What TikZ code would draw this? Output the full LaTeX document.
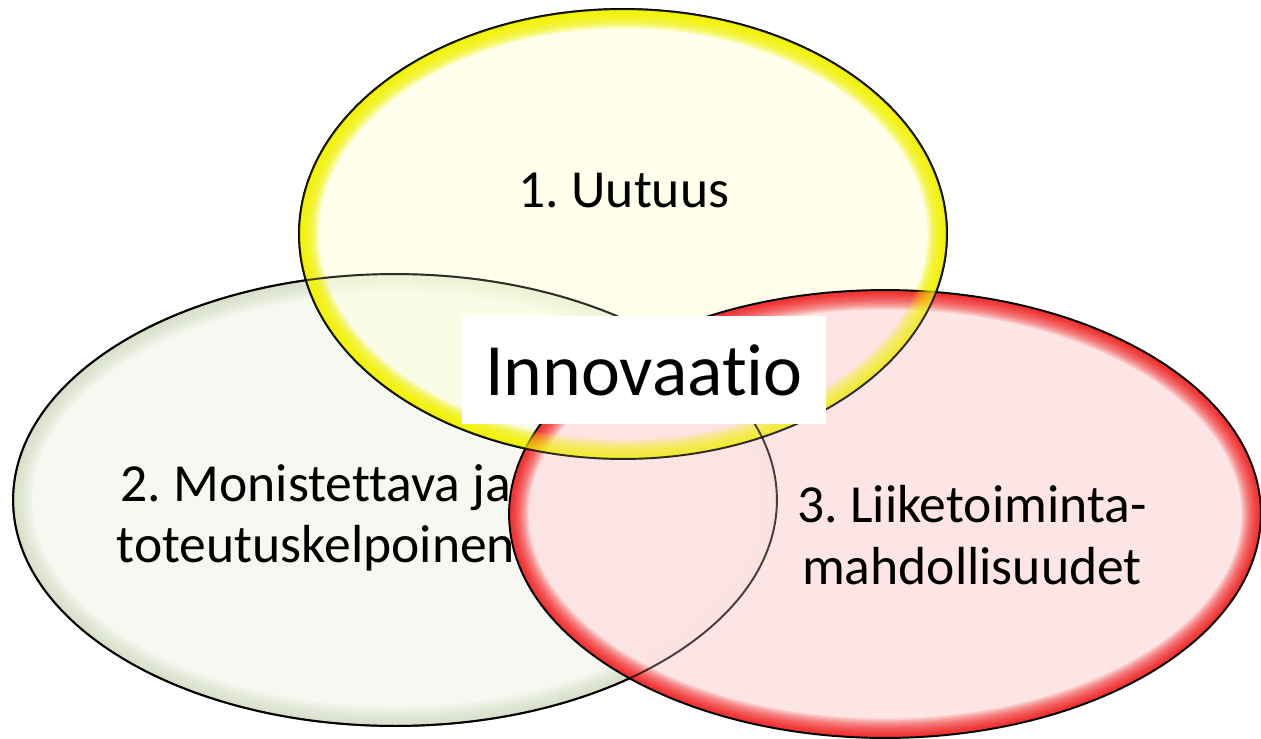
\documentclass[tikz,border=0pt]{standalone}
\usepackage{fontspec}
\setmainfont[Ligatures=CommonOff]{Carlito}
\definecolor{yfill}{HTML}{FFFFDF}
\definecolor{yedge}{HTML}{F2F200}
\definecolor{gfill}{HTML}{F6F8F2}
\definecolor{gedge}{HTML}{C9D4B2}
\definecolor{rfill}{HTML}{FDE3E3}
\definecolor{redge}{HTML}{F00000}
\newcommand{\vennglow}[5]{%
  \begin{scope}
    \clip (#1) ellipse [x radius=#2, y radius=#3];
    \foreach \w in {2,4,...,22} {
      \draw[line width=\w pt, draw=#4, opacity=#5] (#1) ellipse [x radius=#2, y radius=#3];
    }
  \end{scope}}
\tikzset{
  rim/.style={draw=black, line width=1.1pt},
  lbl/.style={font=\fontsize{30.5}{35}\selectfont, align=center, inner sep=0pt},
  core/.style={fill=white, minimum width=7.28cm, minimum height=2.16cm, inner sep=0pt,
    font=\fontsize{42}{48}\selectfont}
}
\begin{document}
\frenchspacing
\begin{tikzpicture}[x=0.02cm, y=-0.02cm]
\useasboundingbox (0,0) rectangle (1261,738);
\coordinate (cy) at (623,234);
\coordinate (cg) at (395,500);
\coordinate (cr) at (885,514);
% green
\fill[gfill] (cg) ellipse [x radius=7.64cm, y radius=4.52cm];
\vennglow{cg}{7.64cm}{4.52cm}{gedge}{0.08}
\draw[rim] (cg) ellipse [x radius=7.64cm, y radius=4.52cm];
\node[lbl] (t2) at (316,518) {2. Monistettava ja\\toteutuskelpoinen};
% yellow
\fill[yfill, opacity=0.6] (cy) ellipse [x radius=6.48cm, y radius=4.5cm];
\vennglow{cy}{6.48cm}{4.5cm}{yedge}{0.12}
\draw[rim] (cy) ellipse [x radius=6.48cm, y radius=4.5cm];
% red
\fill[rfill, opacity=0.93] (cr) ellipse [x radius=7.52cm, y radius=4.48cm];
\vennglow{cr}{7.52cm}{4.48cm}{redge}{0.13}
\draw[rim] (cr) ellipse [x radius=7.52cm, y radius=4.48cm];
% re-draw yellow and green edges through red
\begin{scope}[opacity=0.6]
\vennglow{cy}{6.48cm}{4.5cm}{yedge}{0.12}
\end{scope}
\draw[rim, opacity=0.8] (cy) ellipse [x radius=6.48cm, y radius=4.5cm];
\draw[rim, opacity=0.7] (cg) ellipse [x radius=7.64cm, y radius=4.52cm];
% texts
\node[lbl] (t1) at (624,190) {1. Uutuus};
\node[lbl] (t3) at (972,535) {3. Liiketoiminta-\\mahdollisuudet};
\node[core] (inn) at (644,370) {Innovaatio};
\end{tikzpicture}
\end{document}
